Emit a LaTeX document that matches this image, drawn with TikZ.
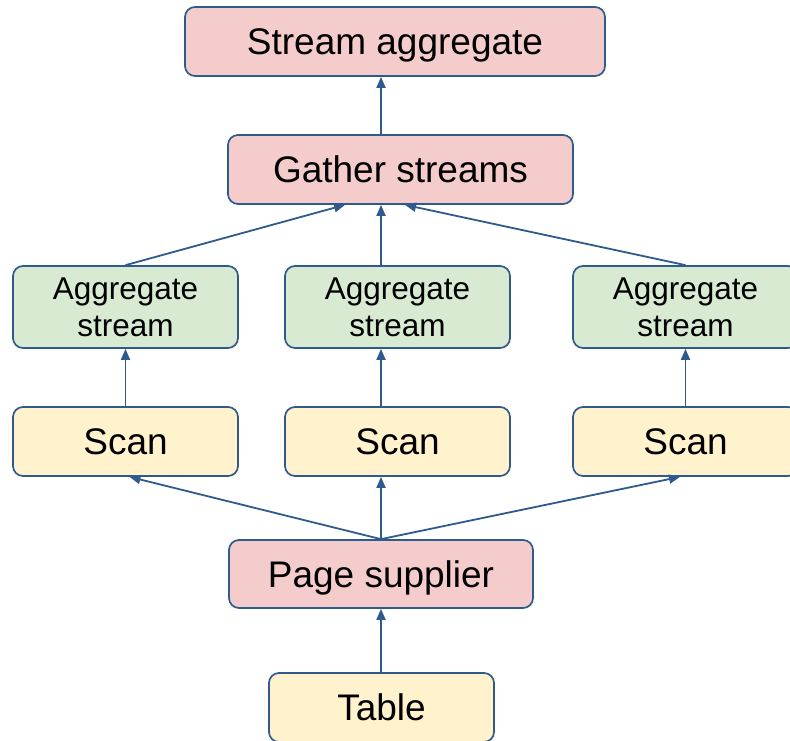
\documentclass[tikz,border=0pt]{standalone}
\usepackage{fontspec}
\setmainfont{Liberation Sans}
\usetikzlibrary{arrows.meta}
\definecolor{bord}{HTML}{2F5A8C}
\definecolor{pinkf}{HTML}{F4CCCC}
\definecolor{greenf}{HTML}{D9EAD3}
\definecolor{yellowf}{HTML}{FFF2CC}
\tikzset{
  box/.style={draw=bord, line width=1.7pt, rounded corners=10pt, inner sep=0pt, align=center},
  one/.style={text height=26.5pt, text depth=0pt, font=\fontsize{37}{42}\selectfont},
  redbox/.style={box, one, fill=pinkf},
  aggbox/.style={box, fill=greenf, minimum width=225pt, minimum height=82pt, font=\fontsize{31.5}{37}\selectfont},
  scanbox/.style={box, one, fill=yellowf, minimum width=225pt, minimum height=69pt},
  conn/.style={draw=bord, line width=1.8pt, -{Triangle[length=11pt,width=9pt]}}
}
\begin{document}
\begin{tikzpicture}[x=1pt,y=1pt]
\useasboundingbox (0,0) rectangle (790,-740);
\node[redbox, minimum width=420pt, minimum height=69pt] (sa) at (395,-41.5) {Stream aggregate};
\node[redbox, minimum width=345pt, minimum height=69pt] (gs) at (400.5,-169.5) {Gather streams};
\node[aggbox] (a1) at (125.5,-307) {Aggregate\\stream};
\node[aggbox] (a2) at (397.5,-307) {Aggregate\\stream};
\node[aggbox] (a3) at (685.5,-307) {Aggregate\\stream};
\node[scanbox] (s1) at (125.5,-441.5) {Scan};
\node[scanbox] (s2) at (397.5,-441.5) {Scan};
\node[scanbox] (s3) at (685.5,-441.5) {Scan};
\node[redbox, minimum width=304pt, minimum height=68pt] (ps) at (381,-574) {Page supplier};
\node[scanbox] (tb) at (381.5,-707.5) {Table};
% connectors
\draw[conn] ([xshift=-19.5pt]gs.north) -- ([xshift=-14pt]sa.south);
\draw[conn] (a1.north) -- ([xshift=-55.5pt]gs.south);
\draw[conn] ([xshift=-16.5pt]a2.north) -- ([xshift=-19.5pt]gs.south);
\draw[conn] (a3.north) -- ([xshift=4.5pt]gs.south);
\draw[conn] (s1.north) -- (a1.south);
\draw[conn] ([xshift=-16.5pt]s2.north) -- ([xshift=-16.5pt]a2.south);
\draw[conn] (s3.north) -- (a3.south);
\draw[conn] (ps.north) -- ([xshift=4pt]s1.south);
\draw[conn] (ps.north) -- ([xshift=-16.5pt]s2.south);
\draw[conn] (ps.north) -- ([xshift=-5.5pt]s3.south);
\draw[conn] ([xshift=-0.5pt]tb.north) -- (ps.south);
\end{tikzpicture}
\end{document}
